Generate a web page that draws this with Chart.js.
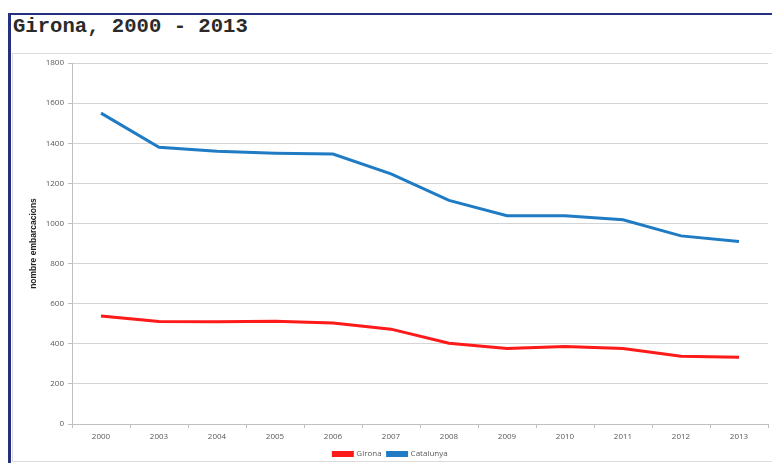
<!DOCTYPE html>
<html>
<head>
<meta charset="utf-8">
<script src="https://cdn.jsdelivr.net/npm/chart.js@4/dist/chart.umd.min.js"></script>
<style>
  html, body { margin: 0; padding: 0; background: #fff; }
  body { width: 772px; height: 463px; position: relative; overflow: hidden; }
  #frame {
    position: absolute; left: 8px; top: 13px; width: 780px; height: 470px;
    border-top: 2px solid #25307e; border-left: 3px solid #25307e;
  }
  #title {
    position: absolute; left: 13px; top: 17px; margin: 0;
    font: bold 20.6px "Liberation Mono", "DejaVu Sans Mono", monospace;
    line-height: 20px; color: #2a2a2a; white-space: pre;
  }
  #box {
    position: absolute; left: 12px; top: 53px; width: 780px; height: 407px;
    border: 1px solid #dcdcdc;
  }
  #wrap { position: absolute; left: 13px; top: 54px; width: 759px; height: 414px; }
</style>
</head>
<body>
<div id="frame"></div>
<div id="title">Girona, 2000 - 2013</div>
<div id="box"></div>
<div id="wrap"><canvas id="chart"></canvas></div>
<script>
// Years on the horizontal axis
const years = ['2000', '2003', '2004', '2005', '2006', '2007', '2008', '2009', '2010', '2011', '2012', '2013'];
// Number of vessels per year
const girona = [538, 511, 510, 512, 504, 473, 403, 376, 386, 376, 338, 333];
const catalunya = [1550, 1380, 1360, 1350, 1346, 1247, 1115, 1038, 1038, 1018, 938, 910];
// Vertical axis range
const yMin = 0, yMax = 1800, yStep = 200;

const tickFont = { family: '"Open Sans", "Liberation Sans", sans-serif', size: 8 };
const gridGrey = '#d4d4d4';

new Chart(document.getElementById('chart'), {
  type: 'line',
  data: {
    labels: years,
    datasets: [
      { label: 'Girona', data: girona, borderColor: '#ff1a1a', backgroundColor: '#ff1a1a',
        borderWidth: 3, pointRadius: 0, tension: 0 },
      { label: 'Catalunya', data: catalunya, borderColor: '#1f7bc4', backgroundColor: '#1f7bc4',
        borderWidth: 3, pointRadius: 0, tension: 0 }
    ]
  },
  options: {
    responsive: true,
    maintainAspectRatio: false,
    animation: false,
    devicePixelRatio: 1,
    layout: { padding: { left: 0, right: 4, top: 9, bottom: 0 } },
    plugins: {
      tooltip: { enabled: false },
      legend: {
        position: 'bottom',
        labels: {
          boxWidth: 19, boxHeight: 3, padding: 6,
          color: '#595959', font: tickFont
        }
      }
    },
    scales: {
      x: {
        offset: true,
        grid: { offset: true, drawOnChartArea: false, drawTicks: true, tickLength: 4, color: '#bfbfbf' },
        border: { color: '#bfbfbf' },
        ticks: { color: '#595959', font: tickFont, padding: 4, maxRotation: 0 },
        afterFit: s => { s.height = 20; }
      },
      y: {
        min: yMin, max: yMax,
        grid: { color: gridGrey, tickLength: 4, tickColor: '#bfbfbf' },
        border: { color: '#bfbfbf' },
        ticks: { stepSize: yStep, color: '#595959', font: tickFont, padding: 4,
                 callback: v => String(v) },
        title: {
          display: true, text: 'nombre embarcacions', color: '#222',
          font: { family: '"Liberation Sans Narrow", "Liberation Sans", sans-serif', size: 8.5, weight: 'bold' },
          padding: { top: 16, bottom: 0 }
        },
        afterFit: s => { s.width = 59; }
      }
    }
  }
});
</script>
</body>
</html>
